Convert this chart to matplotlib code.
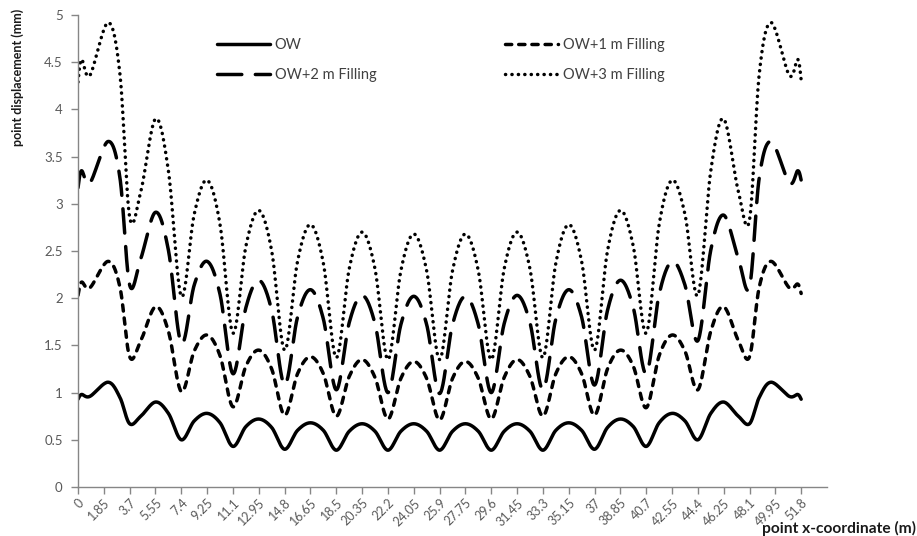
import numpy as np
import matplotlib
matplotlib.use("Agg")
from matplotlib import pyplot as plt

# point x-coordinates (m) of the read-off values
x_pos = [0, 0.25, 0.85, 2.15, 3.0, 3.7, 4.5,
         5.55, 6.475, 7.4, 8.325, 9.25, 10.175, 11.1, 12.025, 12.95, 13.875, 14.8, 15.725,
         16.65, 17.575, 18.5, 19.425, 20.35, 21.275, 22.2, 23.125, 24.05, 24.975, 25.9,
         26.825, 27.75, 28.675, 29.6, 30.525, 31.45, 32.375, 33.3, 34.225, 35.15, 36.075,
         37, 37.925, 38.85, 39.775, 40.7, 41.625, 42.55, 43.475, 44.4, 45.325, 46.25,
         47.3, 48.1, 48.8, 49.65, 50.95, 51.55, 51.8]

ow = [0.93, 0.98, 0.96, 1.11, 0.95, 0.67, 0.75,
      0.90, 0.78, 0.50, 0.70, 0.78, 0.68, 0.43, 0.64, 0.72, 0.63, 0.40, 0.60, 0.68, 0.60,
      0.39, 0.59, 0.67, 0.59, 0.39, 0.59, 0.67, 0.59, 0.39,
      0.59, 0.67, 0.59, 0.39, 0.59, 0.67, 0.59, 0.39, 0.60, 0.68, 0.60, 0.40, 0.63, 0.72,
      0.64, 0.43, 0.68, 0.78, 0.70, 0.50, 0.78, 0.90,
      0.75, 0.67, 0.95, 1.11, 0.96, 0.98, 0.93]

ow_1m = [2.03, 2.17, 2.11, 2.39, 2.12, 1.38, 1.55,
         1.91, 1.65, 1.01, 1.44, 1.61, 1.39, 0.85, 1.28, 1.45, 1.25, 0.76, 1.20, 1.38, 1.20,
         0.75, 1.17, 1.35, 1.16, 0.72, 1.15, 1.33, 1.15, 0.71,
         1.15, 1.33, 1.15, 0.72, 1.16, 1.35, 1.17, 0.75, 1.20, 1.38, 1.20, 0.76, 1.25, 1.45,
         1.28, 0.84, 1.39, 1.61, 1.44, 1.03, 1.65, 1.91,
         1.55, 1.38, 2.12, 2.39, 2.11, 2.15, 2.05]

ow_2m = [3.17, 3.35, 3.22, 3.66, 3.28, 2.14, 2.42,
         2.91, 2.51, 1.52, 2.14, 2.39, 2.04, 1.20, 1.90, 2.19, 1.87, 1.08, 1.80, 2.09, 1.78,
         1.03, 1.74, 2.03, 1.73, 1.00, 1.72, 2.02, 1.72, 0.99,
         1.72, 2.02, 1.72, 1.00, 1.73, 2.03, 1.74, 1.03, 1.78, 2.09, 1.80, 1.08, 1.87, 2.19,
         1.90, 1.20, 2.04, 2.39, 2.14, 1.55, 2.51, 2.88,
         2.42, 2.12, 3.28, 3.66, 3.22, 3.35, 3.25]

ow_3m = [4.29, 4.53, 4.36, 4.92, 4.38, 2.86, 3.13,
         3.90, 3.35, 2.02, 2.89, 3.25, 2.78, 1.63, 2.55, 2.93, 2.50, 1.45, 2.39, 2.78, 2.37,
         1.37, 2.31, 2.70, 2.31, 1.35, 2.29, 2.68, 2.29, 1.35,
         2.29, 2.68, 2.29, 1.35, 2.31, 2.70, 2.31, 1.37, 2.37, 2.78, 2.39, 1.45, 2.50, 2.93,
         2.55, 1.63, 2.78, 3.25, 2.89, 2.03, 3.35, 3.90,
         3.13, 2.83, 4.38, 4.92, 4.36, 4.53, 4.31]

x_labels = ["0", "1.85", "3.7", "5.55", "7.4", "9.25", "11.1", "12.95", "14.8", "16.65",
            "18.5", "20.35", "22.2", "24.05", "25.9", "27.75", "29.6", "31.45", "33.3",
            "35.15", "37", "38.85", "40.7", "42.55", "44.4", "46.25", "48.1", "49.95", "51.8"]
y_labels = ["0", "0.5", "1", "1.5", "2", "2.5", "3", "3.5", "4", "4.5", "5"]


def smooth(xs, ys, n=24):
    # excel-like smoothed line: cubic bezier through the points
    p = np.column_stack([xs, ys]).astype(float)
    out = [p[0]]
    t = np.linspace(0, 1, n)[1:, None]
    for i in range(len(p) - 1):
        p0 = p[i - 1] if i > 0 else p[i]
        p3 = p[i + 2] if i + 2 < len(p) else p[i + 1]
        c1 = p[i] + (p[i + 1] - p0) / 6
        c2 = p[i + 1] - (p3 - p[i]) / 6
        seg = (1 - t) ** 3 * p[i] + 3 * (1 - t) ** 2 * t * c1 + 3 * (1 - t) * t ** 2 * c2 + t ** 3 * p[i + 1]
        out.extend(seg)
    out = np.array(out)
    return out[:, 0], out[:, 1]


plt.rcParams["font.family"] = ["Lato", "DejaVu Sans"]

fig = plt.figure(figsize=(9.17, 5.36), dpi=100)
fig.set_facecolor("w")
ax = fig.add_axes([78 / 917, 1 - 487 / 536, (827 - 78) / 917, (487 - 15) / 536])

lw = 2.5
series = [
    ("OW", ow, dict(linestyle="-")),
    ("OW+2 m Filling", ow_2m, dict(dashes=(7.0, 3.9))),
    ("OW+1 m Filling", ow_1m, dict(dashes=(1.8, 2.0))),
    ("OW+3 m Filling", ow_3m, dict(dashes=(0.05, 1.8))),
]
lines = []
for name, vals, style in series:
    sx, sy = smooth(x_pos, vals)
    (ln,) = ax.plot(sx, sy, color="black", lw=lw, label=name,
                    solid_capstyle="round", dash_capstyle="round", **style)
    lines.append(ln)

ax.set_xlim(0, 53.65)
ax.set_ylim(0, 5)

ax.set_xticks([float(s) for s in x_labels])
ax.set_xticklabels(x_labels, rotation=45, ha="right", va="top", rotation_mode="anchor")
ax.set_yticks([float(s) for s in y_labels])
ax.set_yticklabels(y_labels)

for side in ("top", "right"):
    ax.spines[side].set_visible(False)
for side in ("left", "bottom"):
    ax.spines[side].set_color("#868686")
    ax.spines[side].set_linewidth(1.0)
ax.tick_params(axis="both", colors="#868686", labelcolor="#595959", labelsize=9.5,
               length=5, width=1.0, direction="out")
ax.tick_params(axis="x", labelsize=9, pad=2)
ax.tick_params(axis="y", pad=6)

fig.text(18 / 917, 1 - 77 / 536, "point displacement (mm)", rotation=90, ha="center",
         va="center", fontsize=9, fontweight="bold", color="#1a1a1a")
fig.text(916 / 917, 1 - 528 / 536, "point x-coordinate (m)", ha="right", va="center",
         fontsize=11.2, fontweight="bold", color="#1a1a1a")

leg_kw = dict(frameon=False, fontsize=10.5, handlelength=3.6, handletextpad=0.35,
              labelspacing=1.1, borderpad=0, borderaxespad=0, labelcolor="#404040")
leg1 = ax.legend(lines[:2], [s[0] for s in series[:2]], loc="upper left",
                 bbox_to_anchor=(217 / 917, 1 - 38 / 536), bbox_transform=fig.transFigure, **leg_kw)
ax.add_artist(leg1)
ax.legend(lines[2:], [s[0] for s in series[2:]], loc="upper left",
          bbox_to_anchor=(505 / 917, 1 - 38 / 536), bbox_transform=fig.transFigure, **leg_kw)

fig.savefig("out.png", dpi=100)
plt.close(fig)
